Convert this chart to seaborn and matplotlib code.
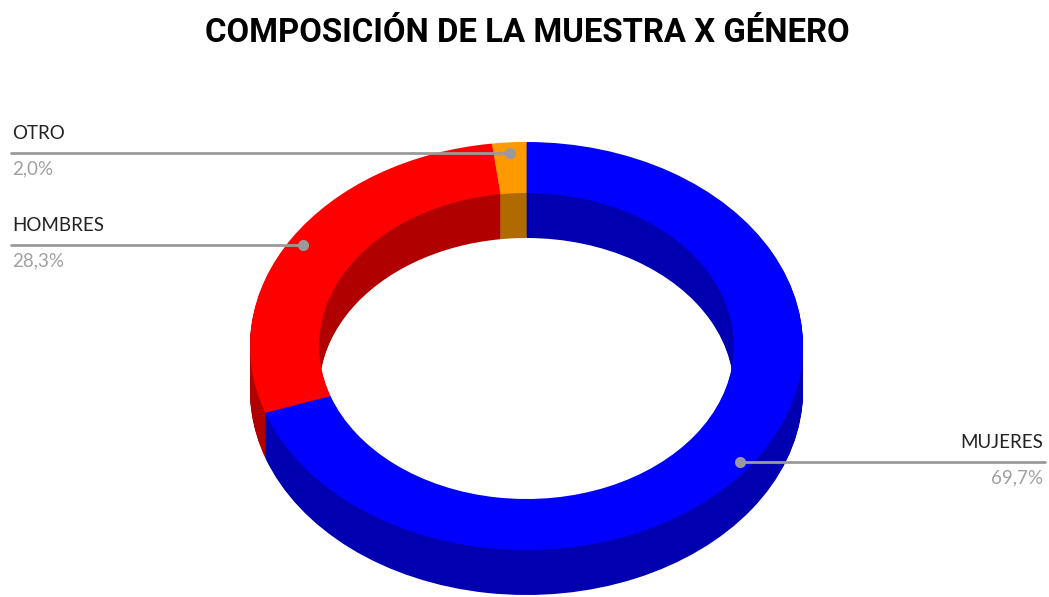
import numpy as np
import matplotlib
matplotlib.use("Agg")
import matplotlib.pyplot as plt
import seaborn as sns

# ---- data ----
categories = ["MUJERES", "HOMBRES", "OTRO"]
values = [69.7, 28.3, 2.0]
pct_labels = ["69,7%", "28,3%", "2,0%"]
top_colors = ["#0000FF", "#FF0000", "#FF9900"]
side_colors = ["#0000B0", "#B00000", "#B06B00"]
title = "COMPOSICIÓN DE LA MUESTRA X GÉNERO"

sns.set_theme(style="white")
plt.rcParams["font.family"] = ["Lato", "DejaVu Sans"]

W, H = 1049, 597
fig = plt.figure(figsize=(W / 100, H / 100), dpi=100)
ax = fig.add_axes([0, 0, 1, 1])

# ellipse geometry in pixels (layout)
cx, cy = 526.5, 346.0
rx, ry = 276.5, 204.0
thick_px = 45
hole = 0.25  # ring width relative to outer radius

# stacked layers for the 3-D side walls
dy = 1.0 / ry
for k in range(thick_px, 0, -1):
    ax.pie(values, colors=side_colors, startangle=90, counterclock=False,
           radius=1, center=(0, -k * dy),
           wedgeprops=dict(width=hole, edgecolor="none", linewidth=0, antialiased=True))
# top face
ax.pie(values, colors=top_colors, startangle=90, counterclock=False,
       radius=1, center=(0, 0),
       wedgeprops=dict(width=hole, edgecolor="none", linewidth=0))

ax.set_aspect("auto")
ax.set_xlim(-cx / rx, (W - cx) / rx)
ax.set_ylim((cy - H) / ry, cy / ry)
ax.axis("off")

def to_px(xd, yd):
    return cx + xd * rx, cy - yd * ry

def fx(px):
    return px / W

def fy(py):
    return 1 - py / H

# leader lines + labels
total = sum(values)
cum = np.cumsum([0] + values)
line_color = "#9A9A9A"
label_layout = {
    # category: (line_y, text_x, side)
    "MUJERES": (462, 1043, "right"),
    "HOMBRES": (245, 12, "left"),
    "OTRO": (153, 12, "left"),
}
for i, cat in enumerate(categories):
    mid = (cum[i] + cum[i + 1]) / 2 / total * 360.0
    ang = np.deg2rad(90 - mid)
    dx, dyp = to_px(0.95 * np.cos(ang), 0.95 * np.sin(ang))
    ly, tx, side = label_layout[cat]
    if side == "left":
        xs = [fx(11), fx(dx)]
        ha = "left"
    else:
        xs = [fx(dx), fx(1045)]
        ha = "right"
    fig.add_artist(plt.Line2D(xs, [fy(ly), fy(ly)], color=line_color, lw=2,
                              transform=fig.transFigure))
    fig.add_artist(plt.Line2D([fx(dx)], [fy(ly)], marker="o", ms=7,
                              color=line_color, transform=fig.transFigure))
    fig.text(fx(tx), fy(ly - 14), cat, ha=ha, va="baseline",
             fontsize=13.5, color="#222222")
    fig.text(fx(tx), fy(ly + 21), pct_labels[i], ha=ha, va="baseline",
             fontsize=13.5, color="#A0A0A0")

t = fig.text(fx(527), fy(42), title, ha="center", va="baseline",
             fontsize=28, fontweight="bold", color="#000000",
             family=["Roboto", "Lato", "DejaVu Sans"])
# fit title width to ~645 px
renderer = fig.canvas.get_renderer()
w = t.get_window_extent(renderer).width
t.set_fontsize(28 * 645.0 / w)

fig.savefig("out.png", dpi=100, facecolor="white")
